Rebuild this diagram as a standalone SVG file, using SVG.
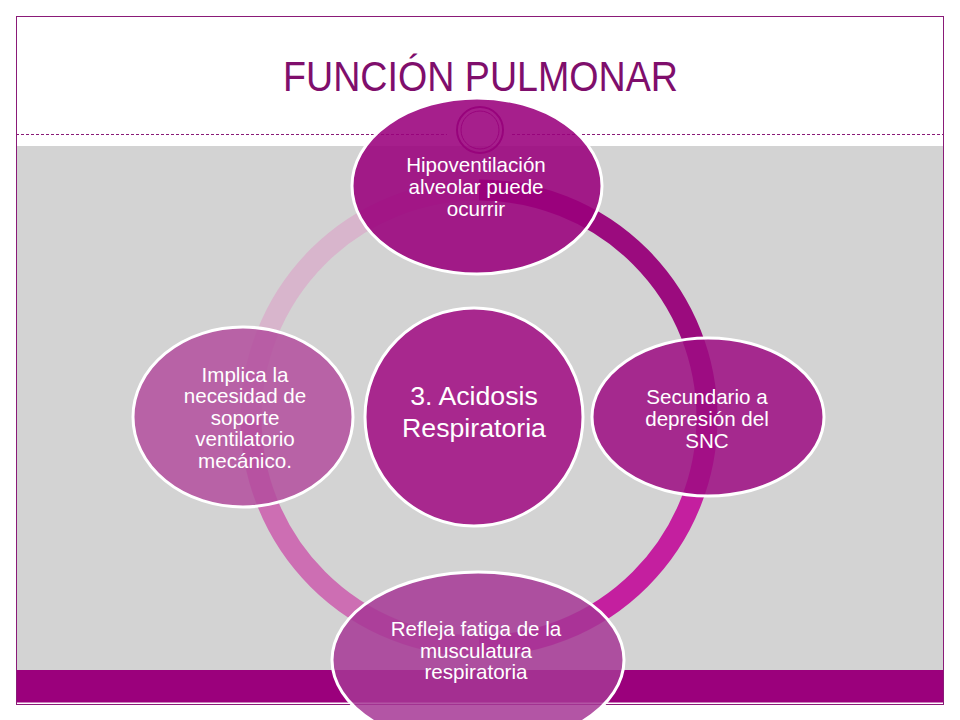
<svg xmlns="http://www.w3.org/2000/svg" width="960" height="720" viewBox="0 0 960 720">
  <style>
    .node { stroke: #ffffff; stroke-width: 3; }
    .ntext { font-family: "Liberation Sans", Arial, sans-serif; font-size: 20.6px; fill: #ffffff; text-anchor: middle; }
    .ctext { font-family: "Liberation Sans", Arial, sans-serif; font-size: 26.7px; fill: #ffffff; text-anchor: middle; }
    .arc { fill: none; stroke-width: 21; }
    .frame { stroke: #8a1a78; fill: none; }
  </style>
  <!-- slide background -->
  <rect x="0" y="0" width="960" height="720" fill="#ffffff"/>
  <rect x="17" y="146" width="926" height="524" fill="#d3d3d3"/>
  <rect x="17" y="670" width="926" height="32.5" fill="#9b007c"/>
  <line x1="16" y1="134.5" x2="447" y2="134.5" class="frame" stroke-width="1" stroke-dasharray="3 2"/>
  <line x1="512" y1="134.5" x2="944" y2="134.5" class="frame" stroke-width="1" stroke-dasharray="3 2"/>
  <circle cx="480" cy="130" r="23" class="frame" stroke-width="2"/>
  <circle cx="480" cy="130" r="19" class="frame" stroke-width="1"/>
  <rect x="16.5" y="16.5" width="927" height="688" class="frame" stroke-width="1"/>
  <text x="480.5" y="91" font-family="Liberation Sans Narrow, Liberation Sans, Arial, sans-serif" font-size="43" fill="#7f0e6c" text-anchor="middle" textLength="395" lengthAdjust="spacingAndGlyphs">FUNCIÓN PULMONAR</text>

  <!-- connectors: cycle ring -->
  <g id="connectors">
    <path class="arc" stroke="#9b0b7e" d="M479,190 A228,228 0 0 1 707,418"/>
    <path class="arc" stroke="#c41f9f" d="M707,418 A228,228 0 0 1 479,646"/>
    <path class="arc" stroke="#cd6eb3" d="M479,646 A228,228 0 0 1 251,418"/>
    <path class="arc" stroke="#d8b5cc" d="M251,418 A228,228 0 0 1 479,190"/>
  </g>

  <g id="node-center">
    <circle class="node" cx="474" cy="417" r="109" fill="#a8288e"/>
    <text class="ctext" x="474" y="405">3. Acidosis</text>
    <text class="ctext" x="474" y="437">Respiratoria</text>
  </g>

  <g id="node-top">
    <ellipse class="node" cx="477" cy="186" rx="125" ry="88" fill="#9a007c" fill-opacity="0.88"/>
    <text class="ntext" x="476" y="172">Hipoventilación</text>
    <text class="ntext" x="476" y="194">alveolar puede</text>
    <text class="ntext" x="476" y="216">ocurrir</text>
  </g>

  <g id="node-right">
    <ellipse class="node" cx="708" cy="417" rx="116" ry="79" fill="#9d0d82" fill-opacity="0.86"/>
    <text class="ntext" x="707" y="404">Secundario a</text>
    <text class="ntext" x="707" y="426">depresión del</text>
    <text class="ntext" x="707" y="448">SNC</text>
  </g>

  <g id="node-bottom">
    <ellipse class="node" cx="478" cy="660" rx="146" ry="88" fill="#a63795" fill-opacity="0.85"/>
    <text class="ntext" x="476" y="636">Refleja fatiga de la</text>
    <text class="ntext" x="476" y="657.5">musculatura</text>
    <text class="ntext" x="476" y="679">respiratoria</text>
  </g>

  <g id="node-left">
    <ellipse class="node" cx="243" cy="417" rx="110" ry="90" fill="#b34e9e" fill-opacity="0.85"/>
    <text class="ntext" x="245" y="381.5">Implica la</text>
    <text class="ntext" x="245" y="403">necesidad de</text>
    <text class="ntext" x="245" y="424.5">soporte</text>
    <text class="ntext" x="245" y="446">ventilatorio</text>
    <text class="ntext" x="245" y="467.5">mecánico.</text>
  </g>
</svg>
